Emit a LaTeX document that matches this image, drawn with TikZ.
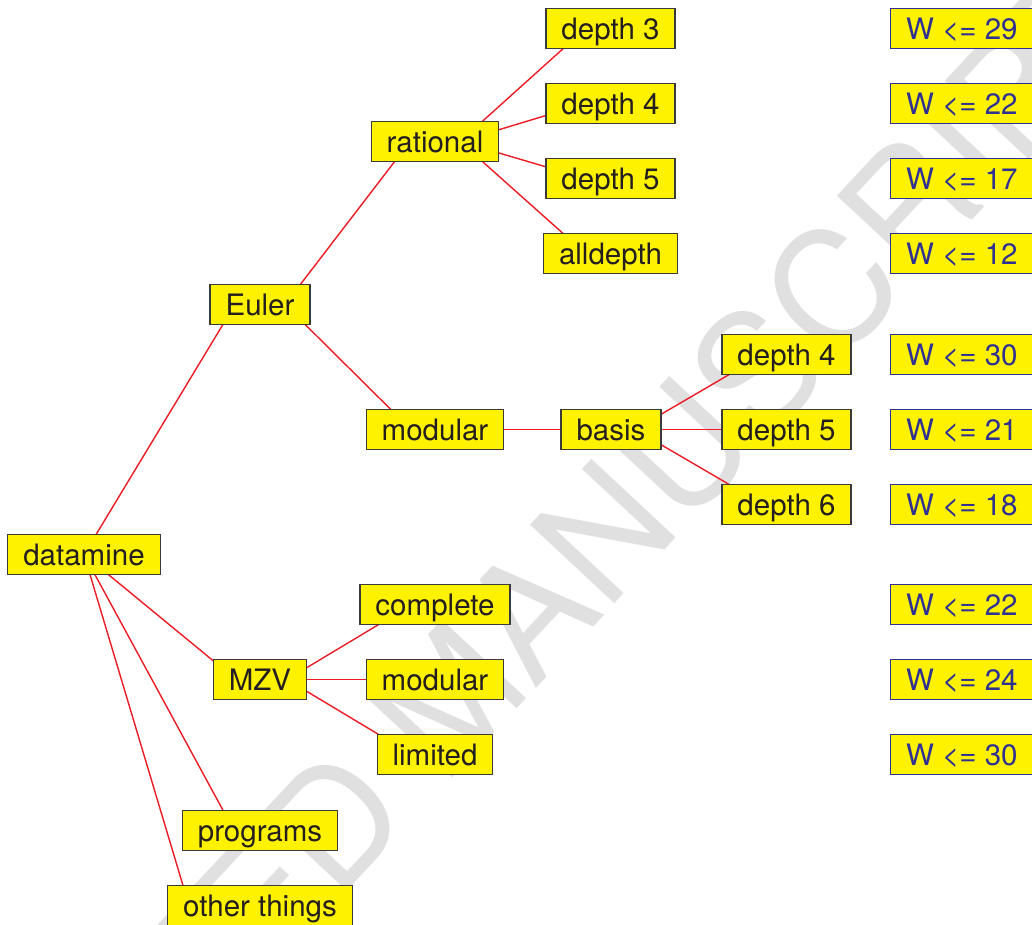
\documentclass[tikz,border=0pt]{standalone}
\usepackage{fontspec}
\setmainfont{TeX Gyre Heros}
\usetikzlibrary{calc}
\pgfdeclarelayer{wmlayer}
\pgfdeclarelayer{background}
\pgfsetlayers{wmlayer,background,main}
\definecolor{boxfill}{RGB}{255,242,0}
\definecolor{boxline}{RGB}{58,58,58}
\definecolor{txt}{RGB}{35,31,32}
\definecolor{wline}{RGB}{46,49,146}
\definecolor{wtxt}{RGB}{46,49,146}
\definecolor{edgered}{RGB}{237,28,36}
\definecolor{wmgray}{RGB}{224,224,224}
\tikzset{
  box/.style={draw=boxline, fill=boxfill, line width=1.2pt, rectangle,
    minimum height=40pt, inner xsep=15.5pt, inner ysep=0pt,
    text height=21pt, text depth=0pt, text=txt,
    font=\fontsize{29.5}{32}\selectfont},
  wbox/.style={box, draw=wline, text=wtxt, anchor=west},
  edge/.style={draw=edgered, line width=1.4pt},
  wmark/.style={text=wmgray, rotate=47, inner sep=0pt,
    text height=0.72em, text depth=0pt,
    font=\fontsize{158}{160}\selectfont}
}
\begin{document}
\begin{tikzpicture}[x=1pt,y=-1pt]
\useasboundingbox (0,0) rectangle (1032,924);
\clip (0,0) rectangle (1032,924);
\begin{scope}[yshift=-0.5pt]
% nodes
\node[box] (datamine) at (84,554) {datamine};
\node[box] (euler) at (260,304) {Euler};
\node[box] (rational) at (435,141) {rational};
\node[box] (d3) at (610.5,28) {depth 3};
\node[box] (d4) at (610.5,103) {depth 4};
\node[box] (d5) at (610.5,178) {depth 5};
\node[box] (dall) at (610.5,253) {alldepth};
\node[box] (modular) at (435,429) {modular};
\node[box] (basis) at (611,429) {basis};
\node[box] (bd4) at (786.5,354) {depth 4};
\node[box] (bd5) at (786.5,429) {depth 5};
\node[box] (bd6) at (786.5,504) {depth 6};
\node[box] (mzv) at (260,679) {MZV};
\node[box] (complete) at (435,604) {complete};
\node[box] (mmodular) at (435,679) {modular};
\node[box] (limited) at (435,754) {limited};
\node[box] (programs) at (260,830) {programs};
\node[box] (other) at (260,905) {other things};

\node[wbox] (w1) at (890,28) {W <= 29};
\node[wbox] (w2) at (890,103) {W <= 22};
\node[wbox] (w3) at (890,178) {W <= 17};
\node[wbox] (w4) at (890,253) {W <= 12};
\node[wbox] (w5) at (890,354) {W <= 30};
\node[wbox] (w6) at (890,429) {W <= 21};
\node[wbox] (w7) at (890,504) {W <= 18};
\node[wbox] (w8) at (890,604) {W <= 22};
\node[wbox] (w9) at (890,679) {W <= 24};
\node[wbox] (w10) at (890,754) {W <= 30};

% watermark
\begin{pgfonlayer}{wmlayer}
\node[wmark] (wm) at (492,730) {ACCEPTED MANUSCRIPT};
\end{pgfonlayer}

% connectors
\begin{pgfonlayer}{background}
\draw[edge] (datamine.center) -- ($(euler.center)+(-25,0)$);
\draw[edge] (datamine.center) -- ($(mzv.center)+(-24,0)$);
\draw[edge] (datamine.center) -- ($(programs.center)+(-26,0)$);
\draw[edge] (datamine.center) -- ($(other.center)+(-71,0)$);
\draw[edge] ($(euler.center)+(25,0)$) -- ($(rational.center)+(-25,0)$);
\draw[edge] ($(euler.center)+(25,0)$) -- ($(modular.center)+(-24,0)$);
\draw[edge] ($(rational.center)+(25,0)$) -- ($(d3.center)+(-25,0)$);
\draw[edge] ($(rational.center)+(25,0)$) -- ($(d4.center)+(-25,0)$);
\draw[edge] ($(rational.center)+(25,0)$) -- ($(d5.center)+(-25,0)$);
\draw[edge] ($(rational.center)+(25,0)$) -- ($(dall.center)+(-25,0)$);
\draw[edge] (modular.center) -- (basis.center);
\draw[edge] ($(basis.center)+(24,0)$) -- ($(bd4.center)+(-23,0)$);
\draw[edge] ($(basis.center)+(24,0)$) -- ($(bd5.center)+(-23,0)$);
\draw[edge] ($(basis.center)+(24,0)$) -- ($(bd6.center)+(-23,0)$);
\draw[edge] ($(mzv.center)+(27,0)$) -- ($(complete.center)+(-23,0)$);
\draw[edge] ($(mzv.center)+(27,0)$) -- ($(mmodular.center)+(-23,0)$);
\draw[edge] ($(mzv.center)+(27,0)$) -- ($(limited.center)+(-23,0)$);
\end{pgfonlayer}
\end{scope}
\end{tikzpicture}
\end{document}
